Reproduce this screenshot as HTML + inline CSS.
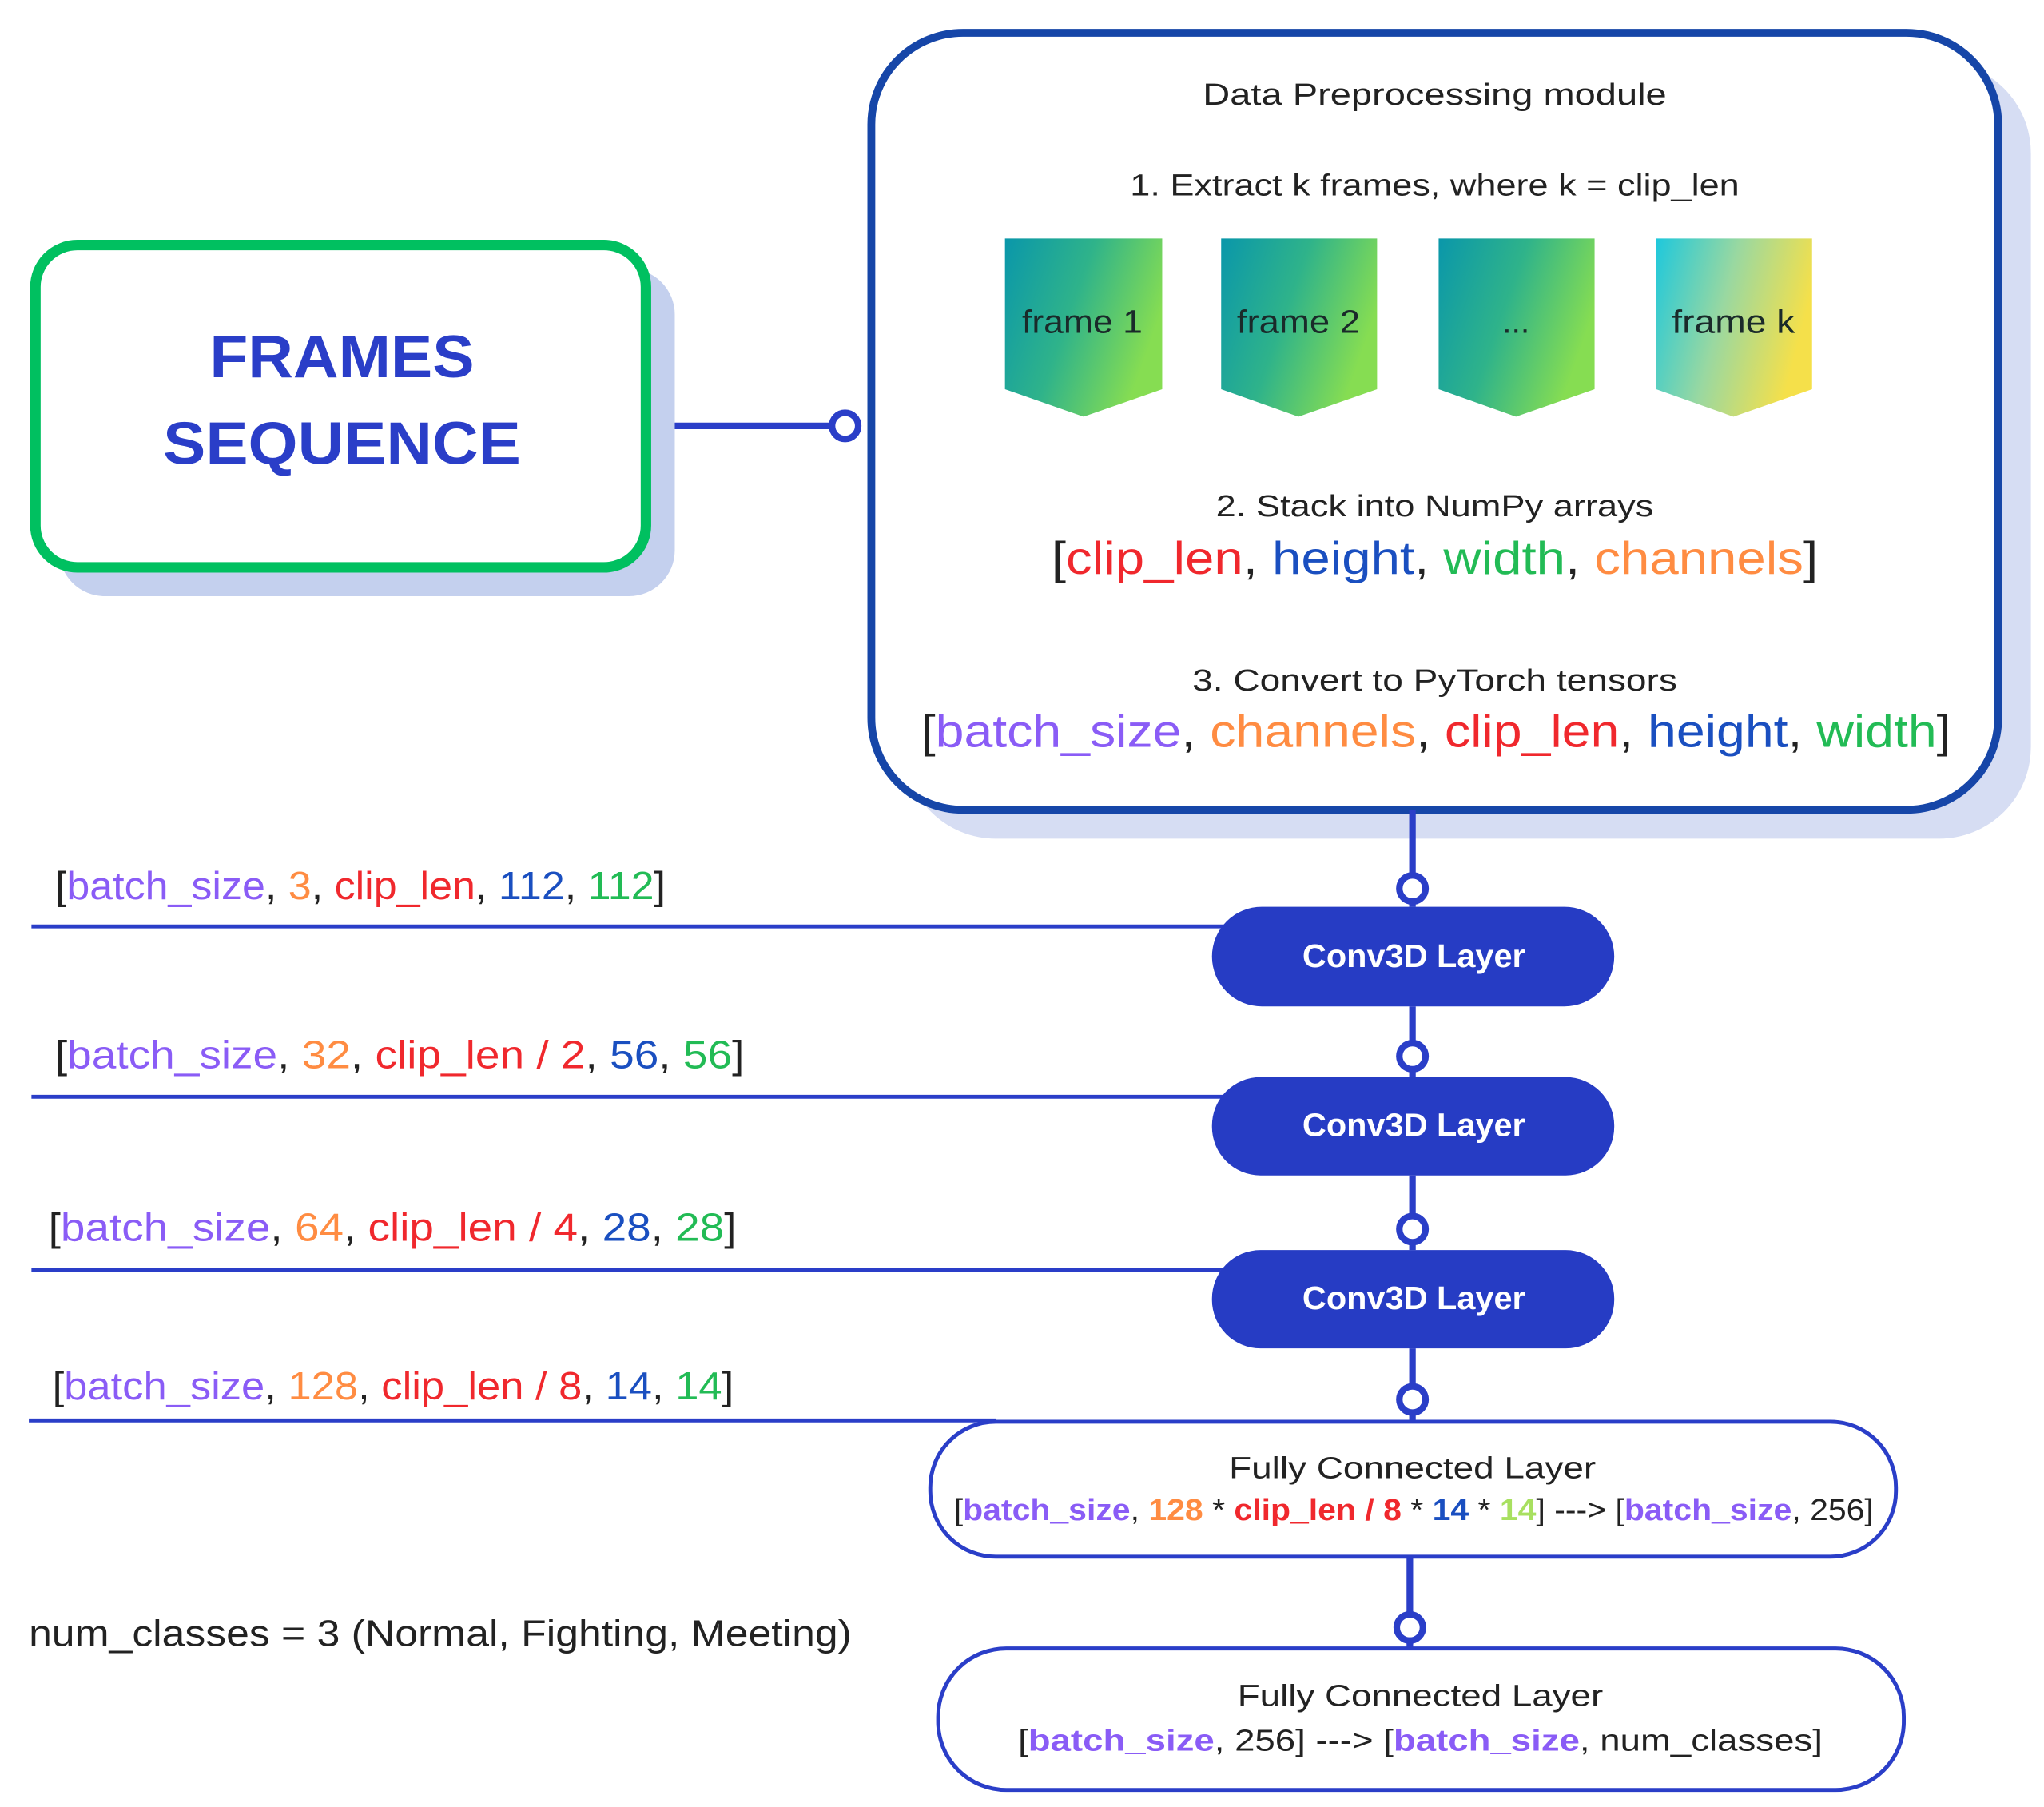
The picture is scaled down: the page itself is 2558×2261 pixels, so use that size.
<!DOCTYPE html>
<html><head><meta charset="utf-8"><style>
html,body{margin:0;padding:0;background:#fff;}
svg{display:block;}
text{font-family:"Liberation Sans",sans-serif;}
</style></head><body>
<svg width="2558" height="2261" viewBox="0 0 1560 1379" preserveAspectRatio="none" xmlns="http://www.w3.org/2000/svg">
<defs>
<linearGradient id="g1" x1="0" y1="0" x2="1" y2="0.4"><stop offset="0" stop-color="#0a97aa"/><stop offset="0.5" stop-color="#2fb38a"/><stop offset="1" stop-color="#86dd52"/></linearGradient>
<linearGradient id="g2" x1="0" y1="0" x2="1" y2="0.3"><stop offset="0" stop-color="#1ec8dc"/><stop offset="0.5" stop-color="#9ad8a0"/><stop offset="1" stop-color="#f5e04a"/></linearGradient>
</defs>
<rect x="690" y="47" width="860" height="593" rx="70" fill="#d6ddf3"/>
<rect x="665" y="25" width="860" height="593" rx="70" fill="#fff" stroke="#1646a8" stroke-width="6"/>
<rect x="45" y="205" width="470" height="250" rx="35" fill="#c4d0ee"/>
<rect x="27" y="187" width="466" height="246" rx="32" fill="#fff" stroke="#00c060" stroke-width="8"/>
<text x="261" y="288" font-size="46" font-weight="bold" fill="#2a3ec8" text-anchor="middle" textLength="202" lengthAdjust="spacingAndGlyphs">FRAMES</text>
<text x="261" y="354" font-size="46" font-weight="bold" fill="#2a3ec8" text-anchor="middle" textLength="273" lengthAdjust="spacingAndGlyphs">SEQUENCE</text>
<line x1="515" y1="325" x2="636" y2="325" stroke="#2a3ec8" stroke-width="5"/>
<circle cx="645" cy="325" r="10" fill="#fff" stroke="#2a3ec8" stroke-width="5"/>
<g text-anchor="middle" fill="#222">
<text x="1095" y="80" font-size="23" textLength="354" lengthAdjust="spacingAndGlyphs">Data Preprocessing module</text>
<text x="1095" y="149" font-size="23" textLength="465" lengthAdjust="spacingAndGlyphs">1. Extract k frames, where k = clip_len</text>
<text x="1095" y="394" font-size="23" textLength="334" lengthAdjust="spacingAndGlyphs">2. Stack into NumPy arrays</text>
<text x="1095" y="527" font-size="23" textLength="370" lengthAdjust="spacingAndGlyphs">3. Convert to PyTorch tensors</text>
</g>
<polygon points="767,182 887,182 887,297 827,318 767,297" fill="url(#g1)"/>
<polygon points="932,182 1051,182 1051,297 991,318 932,297" fill="url(#g1)"/>
<polygon points="1098,182 1217,182 1217,297 1157,318 1098,297" fill="url(#g1)"/>
<polygon points="1264,182 1383,182 1383,297 1323,318 1264,297" fill="url(#g2)"/>
<g font-size="25" fill="#1a2a2a" text-anchor="middle">
<text x="826" y="254" textLength="92" lengthAdjust="spacingAndGlyphs">frame 1</text><text x="991" y="254" textLength="94" lengthAdjust="spacingAndGlyphs">frame 2</text><text x="1157" y="254">...</text><text x="1323" y="254" textLength="94" lengthAdjust="spacingAndGlyphs">frame k</text>
</g>
<text x="1095" y="438" font-size="35" text-anchor="middle" fill="#222" textLength="585" lengthAdjust="spacingAndGlyphs">[<tspan fill="#f0282d">clip_len</tspan>, <tspan fill="#1a4fc0">height</tspan>, <tspan fill="#22bb55">width</tspan>, <tspan fill="#ff8c42">channels</tspan>]</text>
<text x="1096" y="570" font-size="35" text-anchor="middle" fill="#222" textLength="786" lengthAdjust="spacingAndGlyphs">[<tspan fill="#8a5cf6">batch_size</tspan>, <tspan fill="#ff8c42">channels</tspan>, <tspan fill="#f0282d">clip_len</tspan>, <tspan fill="#1a4fc0">height</tspan>, <tspan fill="#22bb55">width</tspan>]</text>
<g stroke="#2a3ec8" stroke-width="5">
<line x1="1078" y1="618" x2="1078" y2="692"/>
<line x1="1078" y1="768" x2="1078" y2="822"/>
<line x1="1078" y1="897" x2="1078" y2="954"/>
<line x1="1078" y1="1029" x2="1078" y2="1085"/>
<line x1="1076" y1="1188" x2="1076" y2="1258"/>
</g>
<g stroke="#2a3ec8" stroke-width="3">
<line x1="24" y1="707" x2="935" y2="707"/>
<line x1="24" y1="837" x2="935" y2="837"/>
<line x1="24" y1="969" x2="935" y2="969"/>
<line x1="22" y1="1084" x2="760" y2="1084"/>
</g>
<g fill="#263cc4">
<rect x="925" y="692" width="307" height="76" rx="38"/>
<rect x="925" y="822" width="307" height="75" rx="37"/>
<rect x="925" y="954" width="307" height="75" rx="37"/>
</g>
<g font-size="25" font-weight="bold" fill="#fff" text-anchor="middle">
<text x="1079" y="738" textLength="170" lengthAdjust="spacingAndGlyphs">Conv3D Layer</text><text x="1079" y="867" textLength="170" lengthAdjust="spacingAndGlyphs">Conv3D Layer</text><text x="1079" y="999" textLength="170" lengthAdjust="spacingAndGlyphs">Conv3D Layer</text>
</g>
<g fill="#fff" stroke="#2a3ec8" stroke-width="5">
<circle cx="1078" cy="678" r="10"/><circle cx="1078" cy="806" r="10"/><circle cx="1078" cy="938" r="10"/><circle cx="1078" cy="1068" r="10"/><circle cx="1076" cy="1242" r="10"/>
</g>
<g font-size="30" fill="#222">
<text x="42" y="686" textLength="466" lengthAdjust="spacingAndGlyphs">[<tspan fill="#8a5cf6">batch_size</tspan>, <tspan fill="#ff8c42">3</tspan>, <tspan fill="#f0282d">clip_len</tspan>, <tspan fill="#1a4fc0">112</tspan>, <tspan fill="#22bb55">112</tspan>]</text>
<text x="42" y="815" textLength="526" lengthAdjust="spacingAndGlyphs">[<tspan fill="#8a5cf6">batch_size</tspan>, <tspan fill="#ff8c42">32</tspan>, <tspan fill="#f0282d">clip_len / 2</tspan>, <tspan fill="#1a4fc0">56</tspan>, <tspan fill="#22bb55">56</tspan>]</text>
<text x="37" y="947" textLength="525" lengthAdjust="spacingAndGlyphs">[<tspan fill="#8a5cf6">batch_size</tspan>, <tspan fill="#ff8c42">64</tspan>, <tspan fill="#f0282d">clip_len / 4</tspan>, <tspan fill="#1a4fc0">28</tspan>, <tspan fill="#22bb55">28</tspan>]</text>
<text x="40" y="1068" textLength="520" lengthAdjust="spacingAndGlyphs">[<tspan fill="#8a5cf6">batch_size</tspan>, <tspan fill="#ff8c42">128</tspan>, <tspan fill="#f0282d">clip_len / 8</tspan>, <tspan fill="#1a4fc0">14</tspan>, <tspan fill="#22bb55">14</tspan>]</text>
</g>
<rect x="710" y="1085" width="737" height="103" rx="50" fill="#fff" stroke="#2a3ec8" stroke-width="3"/>
<rect x="716" y="1258" width="737" height="108" rx="52" fill="#fff" stroke="#2a3ec8" stroke-width="3"/>
<g font-size="23" fill="#222" text-anchor="middle">
<text x="1078" y="1128" textLength="280" lengthAdjust="spacingAndGlyphs">Fully Connected Layer</text>
<text x="1079" y="1160" textLength="702" lengthAdjust="spacingAndGlyphs">[<tspan fill="#8a5cf6" font-weight="bold">batch_size</tspan>, <tspan fill="#ff8c42" font-weight="bold">128</tspan> * <tspan fill="#f0282d" font-weight="bold">clip_len / 8</tspan> * <tspan fill="#1a4fc0" font-weight="bold">14</tspan> * <tspan fill="#a8e060" font-weight="bold">14</tspan>] ---&gt; [<tspan fill="#8a5cf6" font-weight="bold">batch_size</tspan>, 256]</text>
<text x="1084" y="1302" textLength="279" lengthAdjust="spacingAndGlyphs">Fully Connected Layer</text>
<text x="1084" y="1336" textLength="614" lengthAdjust="spacingAndGlyphs">[<tspan fill="#8a5cf6" font-weight="bold">batch_size</tspan>, 256] ---&gt; [<tspan fill="#8a5cf6" font-weight="bold">batch_size</tspan>, num_classes]</text>
</g>
<text x="22" y="1256" font-size="28" fill="#222" textLength="628" lengthAdjust="spacingAndGlyphs">num_classes = 3 (Normal, Fighting, Meeting)</text>
</svg>
</body></html>
